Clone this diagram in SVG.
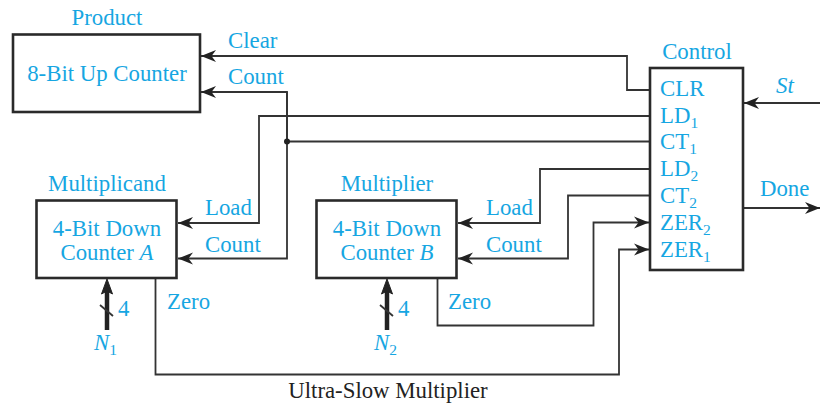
<svg xmlns="http://www.w3.org/2000/svg" width="820" height="404" viewBox="0 0 820 404">
<style>
text{font-family:"Liberation Serif","Times New Roman",serif;font-size:22.8px;fill:#16a6e2}
.k{fill:#222}
.sub{font-size:15.5px}
.box{fill:#fff;stroke:#2a2a2a;stroke-width:2.6}
.w{fill:none;stroke:#333;stroke-width:1.8}
.bus{fill:none;stroke:#222;stroke-width:4.5}
</style>
<defs>
<marker id="ah" markerUnits="userSpaceOnUse" markerWidth="18" markerHeight="14" viewBox="-16 -7 17 14" refX="0" refY="0" orient="auto">
<path d="M0,0 L-15,-6 L-10.5,0 L-15,6 Z" fill="#222"/>
</marker>
</defs>
<rect width="820" height="404" fill="#fff"/>
<g id="connectors">
<polyline class="w" points="650,90 627,90 627,56 201,56" marker-end="url(#ah)"/>
<polyline class="w" points="650,116 259,116 259,223 178,223" marker-end="url(#ah)"/>
<polyline class="w" points="650,141.5 287,141.5"/>
<polyline class="w" points="287,92 287,258.5 178,258.5" marker-end="url(#ah)"/>
<polyline class="w" points="287,141.5 287,92 201,92" marker-end="url(#ah)"/>
<circle cx="287" cy="141.5" r="3" fill="#222"/>
<polyline class="w" points="650,169 540,169 540,223 458,223" marker-end="url(#ah)"/>
<polyline class="w" points="650,195.5 568,195.5 568,258.5 458,258.5" marker-end="url(#ah)"/>
<polyline class="w" points="437.5,279 437.5,325.5 593.5,325.5 593.5,222.5 649,222.5" marker-end="url(#ah)"/>
<polyline class="w" points="155.5,279 155.5,374.5 619,374.5 619,249.5 649,249.5" marker-end="url(#ah)"/>
<polyline class="w" points="820,103 744,103" marker-end="url(#ah)"/>
<polyline class="w" points="744,208 820,208" marker-end="url(#ah)"/>
<line class="bus" x1="107" y1="330" x2="107" y2="290"/>
<path d="M107,279 L101.5,294 L107,291 L112.5,294 Z" fill="#222" stroke="#222" stroke-width="1"/>
<line class="w" x1="100" y1="305" x2="113" y2="316" stroke-width="1.4"/>
<line class="bus" x1="387" y1="330" x2="387" y2="290"/>
<path d="M387,279 L381.5,294 L387,291 L392.5,294 Z" fill="#222" stroke="#222" stroke-width="1"/>
<line class="w" x1="380" y1="305" x2="393" y2="316" stroke-width="1.4"/>
</g>
<g id="product">
<rect class="box" x="13" y="34.5" width="187" height="77.5"/>
<text x="107" y="25" text-anchor="middle">Product</text>
<text x="107" y="81" text-anchor="middle">8-Bit Up Counter</text>
</g>
<g id="control">
<rect class="box" x="650" y="68" width="93" height="202"/>
<text x="697" y="59" text-anchor="middle">Control</text>
<text x="660" y="96">CLR</text>
<text x="660" y="122.5">LD<tspan class="sub" dy="5">1</tspan></text>
<text x="660" y="149">CT<tspan class="sub" dy="5">1</tspan></text>
<text x="660" y="175.5">LD<tspan class="sub" dy="5">2</tspan></text>
<text x="660" y="203">CT<tspan class="sub" dy="5">2</tspan></text>
<text x="660" y="230">ZER<tspan class="sub" dy="5">2</tspan></text>
<text x="660" y="256.5">ZER<tspan class="sub" dy="5">1</tspan></text>
</g>
<g id="counterA">
<rect class="box" x="36.5" y="200.5" width="140" height="77.5"/>
<text x="107" y="191" text-anchor="middle">Multiplicand</text>
<text x="107" y="236" text-anchor="middle">4-Bit Down</text>
<text x="107" y="260" text-anchor="middle">Counter <tspan font-style="italic">A</tspan></text>
</g>
<g id="counterB">
<rect class="box" x="316.5" y="200.5" width="140" height="77.5"/>
<text x="387" y="191" text-anchor="middle">Multiplier</text>
<text x="387" y="236" text-anchor="middle">4-Bit Down</text>
<text x="387" y="260" text-anchor="middle">Counter <tspan font-style="italic">B</tspan></text>
</g>
<g id="labels">
<text x="228" y="48">Clear</text>
<text x="228" y="84">Count</text>
<text x="205" y="215">Load</text>
<text x="205" y="252">Count</text>
<text x="486" y="215">Load</text>
<text x="486" y="252">Count</text>
<text x="167" y="309">Zero</text>
<text x="448" y="309">Zero</text>
<text x="118" y="316">4</text>
<text x="398" y="316">4</text>
<text x="94" y="350" font-style="italic">N<tspan class="sub" dy="5" font-style="normal">1</tspan></text>
<text x="374" y="350" font-style="italic">N<tspan class="sub" dy="5" font-style="normal">2</tspan></text>
<text x="776" y="93" font-style="italic">St</text>
<text x="760" y="196">Done</text>
<text class="k" x="388" y="398" text-anchor="middle">Ultra-Slow Multiplier</text>
</g>
</svg>
